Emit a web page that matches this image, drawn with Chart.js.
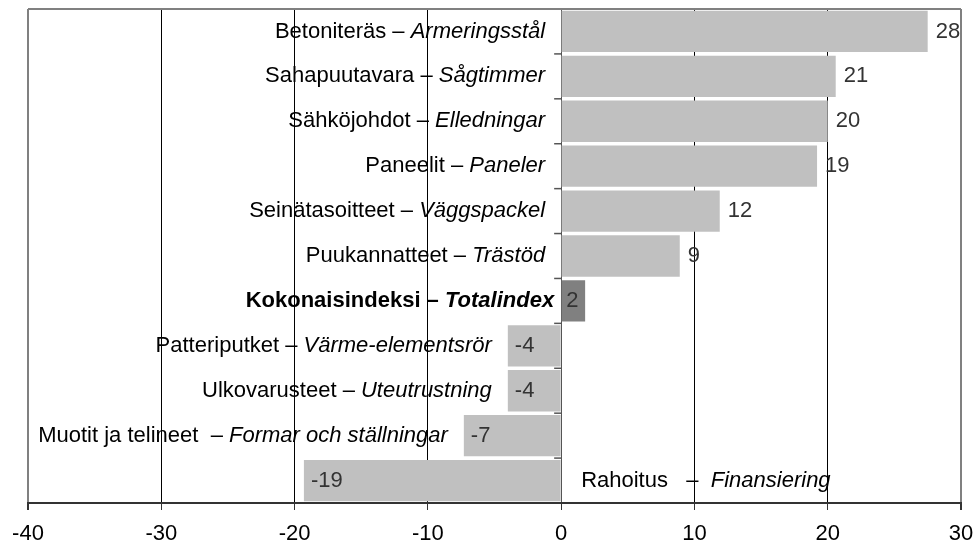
<!DOCTYPE html>
<html>
<head>
<meta charset="utf-8">
<script src="https://cdn.jsdelivr.net/npm/chart.js@4.4.0/dist/chart.umd.min.js"></script>
<style>
  html, body { margin: 0; padding: 0; background: #fff; }
  #wrap { width: 973px; height: 550px; }
</style>
</head>
<body>
<div id="wrap"><canvas id="chart" width="973" height="550"></canvas></div>
<script>
// --- data ---
const labelsFi = ['Betoniteräs', 'Sahapuutavara', 'Sähköjohdot', 'Paneelit', 'Seinätasoitteet',
  'Puukannatteet', 'Kokonaisindeksi', 'Patteriputket', 'Ulkovarusteet', 'Muotit ja telineet ', 'Rahoitus  '];
const labelsSv = ['Armeringsstål', 'Sågtimmer', 'Elledningar', 'Paneler', 'Väggspackel',
  'Trästöd', 'Totalindex', 'Värme-elementsrör', 'Uteutrustning', 'Formar och ställningar', ' Finansiering'];
const values = [27.5, 20.6, 20.0, 19.2, 11.9, 8.9, 1.8, -4.0, -4.0, -7.3, -19.3];
const valueLabels = ['28', '21', '20', '19', '12', '9', '2', '-4', '-4', '-7', '-19'];
const totalIndex = 6;
const xTicks = [-40, -30, -20, -10, 0, 10, 20, 30];

const FONT = '"Liberation Sans", Arial, sans-serif';

// labels inside the plot, next to the bars
const barLabels = {
    id: 'barLabels',
    afterDatasetsDraw(chart) {
        const ctx = chart.ctx;
        const x = chart.scales.x;
        const y = chart.scales.y;
        const area = chart.chartArea;
        const zero = x.getPixelForValue(0);

        ctx.save();
        // top border
        ctx.strokeStyle = '#808080';
        ctx.lineWidth = 2;
        ctx.beginPath();
        ctx.moveTo(area.left, area.top);
        ctx.lineTo(area.right, area.top);
        ctx.stroke();

        // category ticks on the zero line
        ctx.strokeStyle = '#555';
        ctx.lineWidth = 1.5;
        for (let i = 0; i < values.length - 1; i++) {
            const yy = (y.getPixelForValue(i) + y.getPixelForValue(i + 1)) / 2;
            ctx.beginPath();
            ctx.moveTo(zero - 7, yy);
            ctx.lineTo(zero, yy);
            ctx.stroke();
        }

        ctx.textBaseline = 'middle';
        values.forEach((v, i) => {
            const cy = y.getPixelForValue(i);
            const bold = i === totalIndex ? 'bold ' : '';
            const fi = labelsFi[i] + ' – ';
            const sv = labelsSv[i];
            ctx.font = bold + '22px ' + FONT;
            const wFi = ctx.measureText(fi).width;
            ctx.font = 'italic ' + bold + '22px ' + FONT;
            const wSv = ctx.measureText(sv).width;

            let startX;
            if (v < -10) {
                startX = zero + 20;
            } else {
                const edge = Math.min(zero, x.getPixelForValue(v));
                startX = edge - (i === totalIndex ? 7 : 16) - wFi - wSv;
            }
            ctx.fillStyle = '#000';
            ctx.textAlign = 'left';
            ctx.font = bold + '22px ' + FONT;
            ctx.fillText(fi, startX, cy);
            ctx.font = 'italic ' + bold + '22px ' + FONT;
            ctx.fillText(sv, startX + wFi, cy);

            // value label
            ctx.font = '22px ' + FONT;
            ctx.fillStyle = '#333';
            let vx;
            if (v < 0) {
                vx = x.getPixelForValue(v) + 7;
            } else if (v < 3) {
                vx = zero + 5;
            } else {
                vx = x.getPixelForValue(v) + 8;
            }
            ctx.fillText(valueLabels[i], vx, cy);
        });
        ctx.restore();
    }
};

new Chart(document.getElementById('chart'), {
    type: 'bar',
    data: {
        labels: labelsFi,
        datasets: [{
            data: values,
            backgroundColor: values.map((v, i) => i === totalIndex ? '#808080' : '#C0C0C0'),
            borderWidth: 0,
            barPercentage: 0.92,
            categoryPercentage: 1.0
        }]
    },
    options: {
        indexAxis: 'y',
        responsive: false,
        animation: false,
        layout: { padding: { left: 28, right: 0, top: 9, bottom: 0 } },
        plugins: {
            legend: { display: false },
            tooltip: { enabled: false }
        },
        scales: {
            x: {
                min: -40,
                max: 30,
                afterBuildTicks: (scale) => { scale.ticks = xTicks.map(v => ({ value: v })); },
                afterFit: (scale) => {
                    scale.height = 47;
                    scale.paddingLeft = 0;
                    scale.paddingRight = 12;
                },
                ticks: {
                    color: '#000',
                    padding: 11,
                    font: { family: FONT, size: 22 }
                },
                grid: {
                    color: (c) => {
                        const v = c.tick ? c.tick.value : null;
                        if (v === -40 || v === 30) return '#808080';
                        if (v === 0) return '#555';
                        return '#000';
                    },
                    lineWidth: (c) => (c.tick && (c.tick.value === -40 || c.tick.value === 30)) ? 2 : 1,
                    tickLength: 7,
                    tickColor: '#333'
                },
                border: { display: true, color: '#333', width: 2 }
            },
            y: {
                display: false
            }
        }
    },
    plugins: [barLabels]
});
</script>
</body>
</html>
